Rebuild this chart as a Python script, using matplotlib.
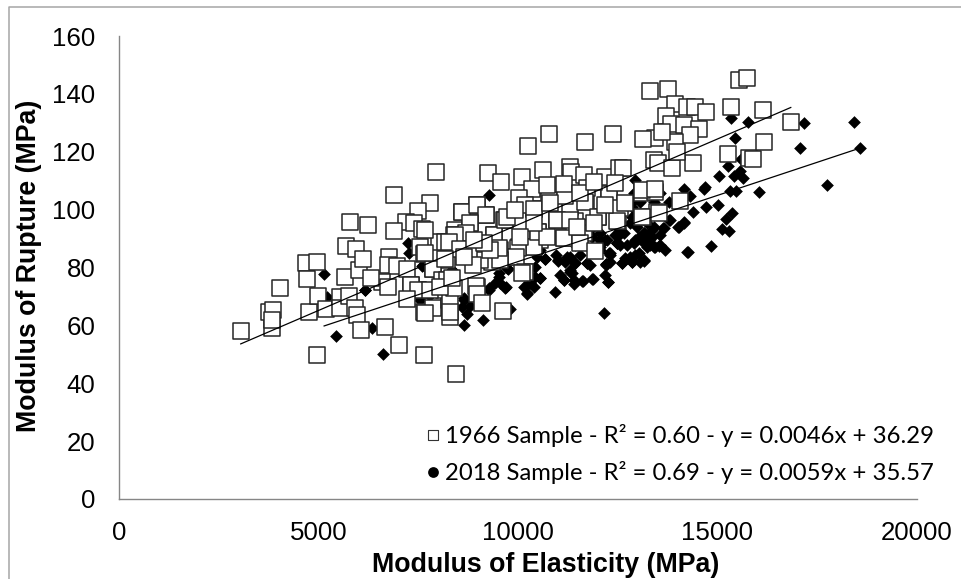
import matplotlib
matplotlib.use("Agg")
import matplotlib.pyplot as plt

# 1966 sample (Modulus of Elasticity, Modulus of Rupture)
moe_1966 = [7319,7487,7863,8139,8265,8976,8558,8691,8415,9210,8976,8600,9411,9938,10021,9645,8223,8014,8390,8808,
            9561,9352,9059,8767,8181,10398,10983,10498,11167,12004,12506,12280,11192,11719,10180,13141,13500,13116,13451,11652,
            11443,10774,11318,10565,10188,10398,11401,11652,
            3053,3846,4026,3762,3870,3829,4760,4685,4977,4719,4994,4960,5203,5536,5545,5778,5695,5937,5787,6234,
            5678,6012,6117,5912,5978,6059,6668,7010,7661,6901,7944,7811,7494,7185,7402,6885,7611,7670,7552,7652,
            6776,6743,6968,6593,6743,6317,7218,7870,7318,7494,7218,7661,7886,8267,8100,8141,8308,8458,8600,8975,
            9201,8809,8700,8433,8266,8542,8183,7677,8867,9393,9685,9242,9585,10257,10791,11684,12390,10107,10624,10349,
            10019,10190,10407,10733,11192,11317,11342,11650,11734,11692,12281,12198,12540,12640,12573,12001,12490,11901,10983,10499,
            11167,11567,11942,10733,10002,9960,9560,9518,10190,10107,9626,8959,8975,9101,8291,8291,7677,8642,8224,8391,
            7802,8058,8350,9309,9142,8892,9726,9935,10816,11150,11567,11317,11484,10399,10065,12198,11901,12448,12699,13124,
            13433,13124,13533,14080,15265,15791,15348,15541,15750,13308,13758,13950,14247,14456,14723,13716,13842,14164,14556,14314,
            13433,13132,13933,13616,13408,13516,13867,14397,13992,16163,16847,16170,15890]
mor_1966 = [74,72.2,79.6,73.4,70.5,73.4,86.3,91.8,93,98.1,101.6,99.3,91.2,83.5,87.2,96.4,82.6,88.9,91.2,95.3,
            86,82,82.6,86,88.9,100.2,96.4,92.4,90.1,97.6,95.9,105,105,102.8,78.6,97.4,99.3,105.6,106.2,99.3,
            95.9,103.3,101,89.5,87.2,87.2,93,91.8,
            58.2,59,73,64.7,65.3,62,64.5,81.7,82,76.1,70.2,49.9,65.6,69.9,65.9,70.1,87.3,86.4,95.8,94.6,
            76.7,79.1,82.8,66,63.6,58.4,59.5,53.2,49.9,105,113.1,102.2,99.6,95.8,95.3,92.5,93.2,93,87.2,84.8,
            83.5,80.9,80.6,75.1,73.4,76.2,79.4,79.6,74,72.2,69.1,64.5,65.9,68.8,75.7,72.2,63,43.2,99.3,101.6,
            98.2,95.3,91.8,91.2,88.9,86.3,82.9,84.9,80.7,91.2,96.4,112.5,109.6,121.9,126,123.4,126,111.4,113.7,107.3,
            103.9,101.6,100.2,108.5,104.8,114.6,112.9,112,107.6,102.7,105.3,111.4,114.4,114.3,100.4,97.6,96.1,95.3,96.4,92.4,
            90.1,88.6,85.8,90.6,86.6,83.7,82.6,86.6,78.5,78.2,65,73.6,71,67.6,68.5,64.7,64.4,83.7,75.7,72.8,
            72.2,73.4,76.2,86,88.3,89.5,97.6,99.9,102.2,109,105.6,96.4,94.1,95.3,90.6,101.6,109.6,109.1,102.2,106.7,
            107,97.3,99,103,119.1,117.7,135.3,144.9,145.4,141.1,141.6,136.4,135.6,135.6,133.7,132.3,129.6,129.2,128,125.9,
            124.6,124.3,123.5,126.9,117.1,116,114.3,116.1,120,134.5,130.3,123.5,117.6]

# 2018 sample
moe_2018 = [18591,18433,17765,17189,17073,16055,15774,15441,15357,15599,15274,15582,15641,15432,15057,14706,14665,14164,14314,15332,
            15482,15023,14731,14398,15374,15232,15307,15124,14164,14017,13800,13642,14857,14272,13550,13408,13158,12866,12615,12265,
            12156,12223,12949,13784,12907,12824,12866,13241,13366,13158,13033,12907,13158,13283,12532,12490,12282,12198,12824,13033,
            13074,13408,9284,8642,9126,8725,8642,8809,8600,9810,10232,10941,9685,9268,9518,9560,9768,10566,10399,10441,
            10691,11008,11150,11400,11626,11876,11233,11442,11359,11734,12215,12323,12073,11818,11651,12573,12490,10482,10566,8350,
            7719,7594,5144,5436,6342,6609,5228,6159,7260,7277,7552,7803,7635,
            10690,11008,11318,11443,11318,11401,11150,11611,11862,12271,11736,12221,12322,12071,11862,12238,12531,12489,12615,12865,
            13160,12949,12740,12949,13160,13409,13660,13827,14162,14037,13451,13576,14246,13242,13367,13074,12907,13576,12865,12823,
            12991,12656,12572,12071,11820,10481,10440,10565,10230,10147,10314,
            9729,9520,9704,9436,9269,10189,8348,7637,6173,8641,7763,
            11192,11568,11819,12070,12321,12698,13074,13325,13576,13700,12949,12447,11317,11443,11067,10966,12572,12196]
mor_2018 = [121.3,130.3,108.4,129.9,121.4,106.2,130.3,124.6,131.5,117.4,115.2,113.5,111,111.6,111.6,107.9,107.3,107.3,104.8,106.5,
            106.5,101.6,101,99.2,98.7,96.7,92.6,93.3,95.6,94.1,96.4,93.8,87.5,85.5,87.5,87.2,82.2,81.8,81.4,75.1,
            64.2,81.2,110.2,102.7,105.6,102.2,97.6,95.3,92.9,91.8,90.6,88.3,88.3,89.5,91.8,88.3,84.9,89.5,83.7,84.9,
            102.7,102.7,105,60.2,62,64.1,68.8,66.7,66.5,65.5,71,71.6,73,72.2,76.8,74.5,79.4,76.2,73.4,80.3,
            82.9,82.3,75.7,74.3,75.4,75.9,83.7,81.4,78,81.4,80.9,84.3,89.5,91.2,92.9,91.8,88.3,83.7,86,79.1,
            72.2,80.5,77.6,56.5,59,50.2,69.7,72.2,88.6,85.1,68.7,70.5,80.8,
            83,82.6,83.8,81.5,78.6,75.7,75.7,75.5,75.9,75.1,81.5,81.2,84.9,87.2,90.7,89.5,91.2,88.4,81.5,82,
            82.6,84.3,87.8,89.5,91.8,94.1,93.6,96.4,95.5,93.9,87.2,87.8,85.5,87.2,90.7,103.3,103.3,105.6,101,95.3,
            94.1,91.8,93,91.8,93,84.9,76.8,76.3,71.1,73.4,74.5,
            79.7,78,73.4,74.5,72.8,73.4,79.1,80.9,72.2,69.3,70.5,
            81.9,84.3,80.9,86,81.9,83.3,81.9,87.8,91.2,86,89.1,91.2,79.1,87.8,77.4,84.3,87.8,77.4]

# Trend lines (end points)
trend_1966_x = [3053, 16847]
trend_1966_y = [53.6, 135.3]
trend_2018_x = [5144, 18591]
trend_2018_y = [59.8, 121.3]

x_ticks = [0, 5000, 10000, 15000, 20000]
y_ticks = [0, 20, 40, 60, 80, 100, 120, 140, 160]
x_title = "Modulus of Elasticity (MPa)"
y_title = "Modulus of Rupture (MPa)"
legend_1966 = "1966 Sample - R² = 0.60 - y = 0.0046x + 36.29"
legend_2018 = "2018 Sample - R² = 0.69 - y = 0.0059x + 35.57"

W, H = 961, 579
fig = plt.figure(figsize=(W/100, H/100), dpi=100)
L, R, T, B = 119, 916.5, 36, 499
ax = fig.add_axes([L/W, 1-B/H, (R-L)/W, (B-T)/H])
ax.set_xlim(0, 20000)
ax.set_ylim(0, 160)
ax.set_xticks(x_ticks)
ax.set_yticks(y_ticks)
for s in ("top", "right"):
    ax.spines[s].set_visible(False)
for s in ("left", "bottom"):
    ax.spines[s].set_color("#868686")
    ax.spines[s].set_linewidth(1.0)
ax.tick_params(axis="x", length=0, pad=15.5, labelsize=18.6, labelfontfamily="Liberation Sans", colors="black")
ax.tick_params(axis="y", length=0, pad=17, labelsize=18.6, labelfontfamily="Liberation Sans", colors="black")

ax.scatter(moe_2018, mor_2018, marker="D", s=42, c="black", linewidths=0, zorder=3, clip_on=False)
ax.scatter(moe_1966, mor_1966, marker="s", s=120, facecolors="white", edgecolors="#262626", linewidths=1.1, zorder=4, clip_on=False)
ax.plot(trend_1966_x, trend_1966_y, color="black", lw=0.9, zorder=5)
ax.plot(trend_2018_x, trend_2018_y, color="black", lw=0.9, zorder=5)

fig.text(546/W, 1-565/H, x_title, fontsize=19.3, fontweight="bold", family="Liberation Sans", ha="center", va="center")
fig.text(29/W, 1-266/H, y_title, fontsize=19.3, fontweight="bold", family="Liberation Sans", ha="center", va="center", rotation=90)

# Legend drawn as text plus markers
ax.scatter([7880], [22], marker="s", s=50, facecolors="white", edgecolors="#333333", linewidths=0.8, zorder=6)
ax.scatter([7880], [9.3], marker="o", s=60, c="black", linewidths=0, zorder=6)
ax.text(8181, 22, legend_1966, fontsize=17.2, family="Lato", va="center", ha="left", zorder=6)
ax.text(8181, 9.3, legend_2018, fontsize=17.2, family="Lato", va="center", ha="left", zorder=6)

# Outer frame (left and top only, as in the picture)
fig.add_artist(plt.Line2D([9/W, 9/W, 1], [0, 1-6.5/H, 1-6.5/H], color="#a6a6a6", lw=1.1))
fig.savefig("out.png", dpi=100)
